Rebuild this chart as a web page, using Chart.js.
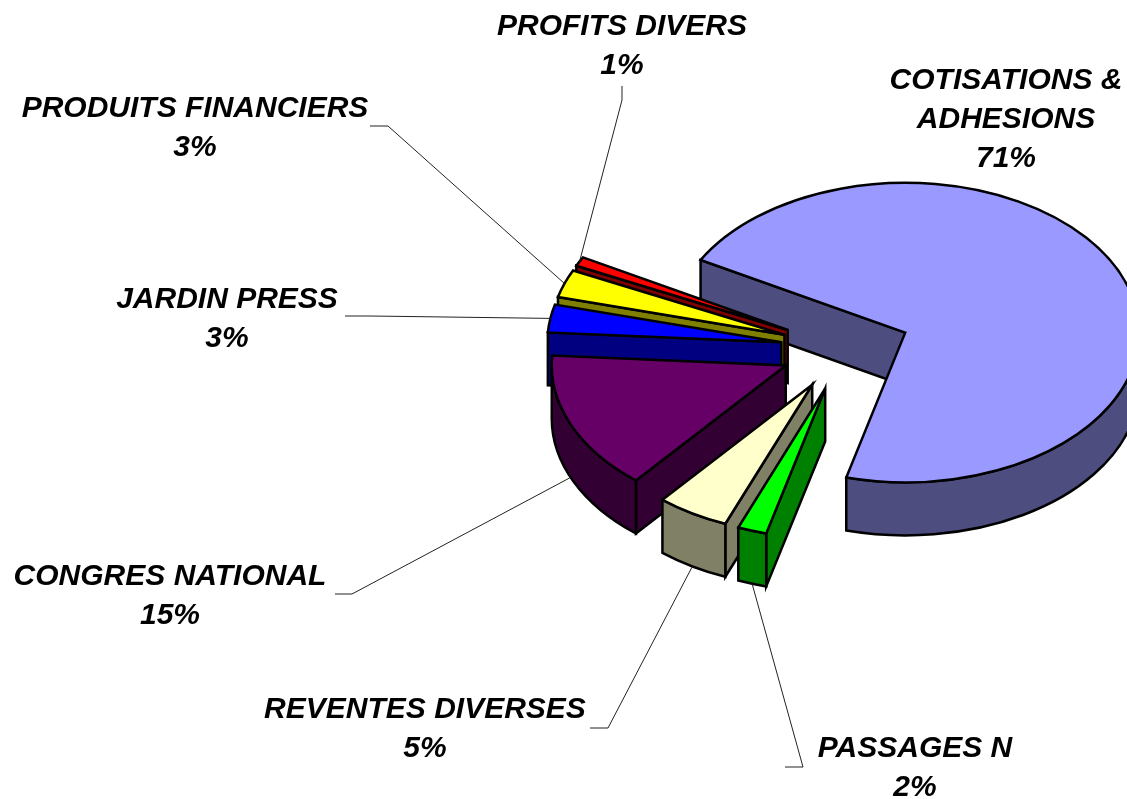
<!DOCTYPE html>
<html>
<head>
<meta charset="utf-8">
<title>Recettes</title>
<script src="https://cdn.jsdelivr.net/npm/chart.js@4"></script>
<style>
  html, body { margin: 0; padding: 0; background: #fff; overflow: hidden; }
  canvas { display: block; }
</style>
</head>
<body>
<canvas id="pie" width="1127" height="799"></canvas>
<script>
// Data, clockwise from the big slice
const categories = [
  'COTISATIONS &\nADHESIONS',
  'PASSAGES N',
  'REVENTES DIVERSES',
  'CONGRES NATIONAL',
  'JARDIN PRESS',
  'PRODUITS FINANCIERS',
  'PROFITS DIVERS'
];
const percents = [71, 2, 5, 15, 3, 3, 1];

const topColors = ['#9999FF', '#00FF00', '#FFFFCC', '#660066', '#0000FF', '#FFFF00', '#FF0000'];
const wallColors = ['#4D4D80', '#008000', '#808066', '#330033', '#000080', '#808000', '#800000'];

// Back to front, the order the old 3D pie paints its slices in
const drawOrder = [0, 6, 5, 4, 3, 2, 1];

// Label centres and first baselines
const labelX = [1006, 915, 425, 170, 227, 195, 622];
const labelY = [89, 757, 718, 585, 308, 117, 35];
const lineHeight = 39;

// Leader start and elbow, the last leg goes to the slice edge
const leaders = [
  null,
  [785, 767, 803, 767],
  [590, 728, 608, 728],
  [335, 594, 352, 594],
  [345, 316, 370, 316],
  [370, 126, 388, 126],
  [622, 86, 622, 100]
];

// Fake 3D settings
const tilt = 0.64;
const depth = 53;
const explode = 65;

const pie3d = {
  id: 'pie3d',
  // Paint the arcs here instead of letting the chart do it flat
  beforeDatasetDraw(chart, args) {
    const ctx = chart.ctx;
    const arcs = args.meta.data;

    const place = (arc) => {
      const mid = (arc.startAngle + arc.endAngle) / 2;
      return {
        x: arc.x + Math.cos(mid) * explode,
        y: arc.y + Math.sin(mid) * explode * tilt,
      };
    };

    const outline = () => {
      ctx.strokeStyle = '#000';
      ctx.lineWidth = 2.5;
      ctx.lineJoin = 'miter';
      ctx.stroke();
    };

    drawOrder.forEach((i) => {
      const arc = arcs[i];
      const c = place(arc);
      const r = arc.outerRadius;
      const ry = r * tilt;
      const start = arc.startAngle;
      const end = arc.endAngle;
      ctx.fillStyle = wallColors[i];

      // Cut face turned towards the viewer
      const faceAngle = Math.cos(start) < 0 ? start : (Math.cos(end) > 0 ? end : null);
      if (faceAngle !== null) {
        const fx = c.x + Math.cos(faceAngle) * r;
        const fy = c.y + Math.sin(faceAngle) * ry;
        ctx.beginPath();
        ctx.moveTo(c.x, c.y);
        ctx.lineTo(fx, fy);
        ctx.lineTo(fx, fy + depth);
        ctx.lineTo(c.x, c.y + depth);
        ctx.closePath();
        ctx.fill();
        outline();
      }

      // Rim, only the part on the front half of the ellipse
      const turns = Math.ceil((start - Math.PI) / (2 * Math.PI));
      for (let k = turns - 1; k <= turns + 1; k++) {
        const a0 = Math.max(start, k * 2 * Math.PI);
        const a1 = Math.min(end, k * 2 * Math.PI + Math.PI);
        if (a1 <= a0) continue;
        ctx.beginPath();
        ctx.ellipse(c.x, c.y, r, ry, 0, a0, a1);
        ctx.ellipse(c.x, c.y + depth, r, ry, 0, a1, a0, true);
        ctx.closePath();
        ctx.fill();
        outline();
      }

      // Top face: the chart's own arc, squashed
      ctx.save();
      ctx.translate(c.x, c.y);
      ctx.scale(1, tilt);
      ctx.translate(-arc.x, -arc.y);
      arc.draw(ctx);
      ctx.restore();

      ctx.beginPath();
      ctx.moveTo(c.x, c.y);
      ctx.ellipse(c.x, c.y, r, ry, 0, start, end);
      ctx.closePath();
      outline();
    });

    return false;
  },
  afterDraw(chart) {
    const ctx = chart.ctx;
    const arcs = chart.getDatasetMeta(0).data;

    ctx.save();
    ctx.strokeStyle = '#222';
    ctx.lineWidth = 1;
    leaders.forEach((pts, i) => {
      if (!pts) return;
      const arc = arcs[i];
      const mid = (arc.startAngle + arc.endAngle) / 2;
      const r = arc.outerRadius + explode;
      const x = arc.x + Math.cos(mid) * r;
      const y = arc.y + Math.sin(mid) * r * tilt + (Math.sin(mid) > 0 ? depth : 0);
      ctx.beginPath();
      ctx.moveTo(pts[0], pts[1]);
      ctx.lineTo(pts[2], pts[3]);
      ctx.lineTo(x, y);
      ctx.stroke();
    });

    ctx.fillStyle = '#000';
    ctx.font = 'italic bold 30px "Liberation Sans"';
    ctx.textAlign = 'center';
    ctx.textBaseline = 'alphabetic';
    categories.forEach((name, i) => {
      const lines = name.split('\n').concat(percents[i] + '%');
      lines.forEach((line, n) => {
        ctx.fillText(line, labelX[i], labelY[i] + n * lineHeight);
      });
    });
    ctx.restore();
  }
};

new Chart(document.getElementById('pie'), {
  type: 'pie',
  data: {
    labels: categories,
    datasets: [{
      data: percents,
      backgroundColor: topColors,
      borderWidth: 0,
      radius: 234,
    }],
  },
  options: {
    responsive: false,
    animation: false,
    rotation: 299,
    layout: {
      // Puts the pie centre where the slices spread from
      padding: { left: 564, right: 0, top: 0, bottom: 101 },
    },
    plugins: {
      legend: { display: false },
      tooltip: { enabled: false },
    },
  },
  plugins: [pie3d],
});
</script>
</body>
</html>
